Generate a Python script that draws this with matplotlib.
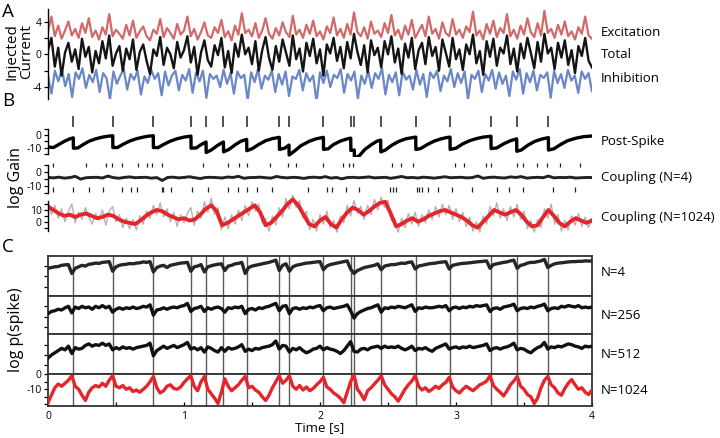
import numpy as np
import matplotlib
matplotlib.use('Agg')
import matplotlib.pyplot as plt

plt.rcParams['font.family'] = ['Open Sans', 'DejaVu Sans']
plt.rcParams['axes.unicode_minus'] = False

# ---------------- data ----------------
spike_times = [0.186, 0.476, 0.774, 1.051, 1.162, 1.29, 1.461, 1.701, 1.772,
               2.025, 2.226, 2.252, 2.446, 2.704, 2.956, 3.257, 3.446, 3.679]

# panel A: injected current (0.025 s grid)
excitation = [2.8, 4.6, 2.2, 3.5, 1.9, 2.9, 4.0, 2.3, 3.1, 2.0, 3.8, 2.6, 4.4, 2.1, 2.9, 1.8, 3.3, 2.4, 4.9, 2.2,
              3.0, 2.5, 1.9, 3.6, 2.3, 4.1, 2.0, 2.8, 3.4, 2.2, 1.7, 3.0, 2.5, 4.3, 2.1, 3.2, 2.6, 1.9, 3.7, 2.4,
              2.9, 4.6, 2.2, 3.1, 1.8, 2.7, 3.9, 2.3, 2.0, 3.3, 2.6, 4.2, 2.1, 2.8, 1.7, 3.5, 2.4, 5.0, 2.6, 3.0,
              2.2, 3.8, 2.0, 2.9, 4.4, 2.5, 1.9, 3.2, 2.3, 3.9, 2.7, 2.1, 4.7, 2.4, 3.0, 2.0, 3.6, 2.5, 4.1, 2.2,
              2.8, 1.8, 3.4, 2.6, 4.5, 2.3, 3.1, 2.0, 3.7, 2.4, 5.1, 2.7, 2.2, 3.3, 1.9, 4.0, 2.5, 2.9, 2.1, 3.8,
              2.6, 4.8, 2.3, 3.0, 1.8, 3.5, 2.4, 4.2, 2.0, 2.8, 3.6, 2.2, 4.6, 2.5, 3.1, 1.9, 3.9, 2.6, 2.2, 4.3,
              2.4, 3.0, 2.0, 3.4, 2.7, 5.2, 2.3, 2.9, 1.8, 3.7, 2.5, 4.1, 2.1, 3.2, 2.6, 4.9, 2.2, 3.0, 1.9, 3.5,
              2.4, 4.4, 2.7, 2.1, 3.8, 2.3, 5.3, 2.6, 3.1, 2.0, 3.6, 2.4, 4.0, 2.2, 2.8, 1.8, 3.3, 2.5, 4.6, 2.3,
              1.9]
total = [0.5, 2.0, -1.5, 0.8, -2.6, 0.2, 1.4, -0.9, 0.6, -1.8, 1.9, -0.3, 0.9, -2.2, 0.4, -1.1, 1.6, -0.5, 2.3, -1.4,
         0.1, 1.0, -2.0, 0.7, -0.6, 1.8, -1.9, 0.3, 1.2, -0.8, -2.4, 0.6, -0.2, 2.1, -1.3, 0.8, 0.0, -1.7, 1.5, -0.4,
         0.5, 2.2, -1.0, 0.9, -2.5, 0.2, 1.7, -0.7, -1.5, 1.1, -0.1, 2.0, -1.6, 0.4, -2.3, 1.3, -0.3, 2.4, 0.0, 0.8,
         -1.2, 1.6, -2.0, 0.5, 2.1, -0.4, -1.9, 1.0, -0.9, 1.8, 0.2, -1.4, 2.3, -0.6, 0.7, -2.1, 1.4, -0.2, 1.9, -1.1,
         0.6, -2.6, 1.2, 0.1, 2.0, -0.8, 0.9, -1.7, 1.5, -0.5, 2.5, 0.3, -1.3, 1.1, -2.2, 1.7, -0.1, 0.8, -1.6, 1.6,
         0.0, 2.2, -1.0, 0.7, -2.4, 1.3, -0.4, 2.0, -1.8, 0.5, 1.4, -1.2, 2.1, -0.2, 0.9, -2.0, 1.8, 0.2, -1.5, 2.0,
         -0.6, 0.6, -1.9, 1.2, 0.0, 2.4, -1.1, 0.4, -2.5, 1.6, -0.3, 1.9, -1.4, 0.8, 0.1, 2.3, -1.2, 0.7, -2.1, 1.3,
         -0.5, 2.0, 0.2, -1.7, 1.5, -0.9, 2.5, 0.1, 0.8, -1.8, 1.4, -0.4, 1.7, -1.3, 0.5, -2.3, 1.0, -0.2, 2.0, -0.8,
         -1.6]
inhibition = [-2.6, -4.8, -2.0, -3.3, -1.8, -3.9, -2.4, -5.2, -2.2, -3.0, -1.7, -4.1, -2.5, -3.4, -1.9, -4.6, -2.3, -2.9, -5.5, -2.1,
              -3.6, -2.6, -1.8, -4.3, -2.4, -3.1, -2.0, -4.9, -2.7, -3.5, -1.9, -3.0, -2.3, -5.0, -2.1, -3.8, -2.6, -2.0, -4.4, -2.5,
              -3.2, -1.8, -4.7, -2.2, -3.3, -2.0, -5.3, -2.4, -3.0, -2.6, -4.0, -1.9, -3.6, -2.3, -4.8, -2.1, -2.9, -2.5, -5.6, -2.2,
              -3.4, -1.8, -4.2, -2.6, -3.1, -2.0, -4.6, -2.4, -3.7, -2.1, -5.1, -2.7, -3.0, -1.9, -4.4, -2.3, -3.3, -2.6, -5.8, -2.2,
              -3.5, -2.0, -4.0, -2.5, -2.9, -1.8, -4.7, -2.4, -3.2, -2.1, -5.4, -2.6, -3.6, -2.0, -4.1, -2.3, -3.0, -1.7, -4.9, -2.5,
              -3.4, -2.2, -5.0, -2.1, -3.1, -2.6, -4.3, -1.9, -3.7, -2.4, -5.2, -2.2, -2.9, -2.0, -4.5, -2.6, -3.3, -1.8, -4.0, -2.3,
              -3.5, -2.1, -5.5, -2.5, -3.0, -2.0, -4.6, -2.4, -3.2, -1.9, -4.2, -2.2, -3.6, -2.6, -5.1, -2.1, -3.1, -1.8, -4.8, -2.3,
              -3.4, -2.0, -4.4, -2.5, -2.9, -2.2, -5.3, -2.0, -3.5, -2.4, -4.1, -1.9, -3.2, -2.6, -4.7, -2.1, -3.0, -2.3, -4.5]

# panel B: post-spike filter output (time, value)
post_t = [0.00, 0.04, 0.08, 0.12, 0.16, 0.186,
          0.187, 0.22, 0.26, 0.30, 0.35, 0.40, 0.44, 0.476,
          0.477, 0.51, 0.55, 0.60, 0.65, 0.70, 0.74, 0.774,
          0.775, 0.81, 0.85, 0.90, 0.95, 1.00, 1.051,
          1.052, 1.09, 1.12, 1.162,
          1.163, 1.20, 1.25, 1.29,
          1.291, 1.33, 1.38, 1.42, 1.461,
          1.462, 1.50, 1.55, 1.60, 1.65, 1.701,
          1.702, 1.74, 1.772,
          1.773, 1.81, 1.86, 1.92, 1.97, 2.025,
          2.026, 2.06, 2.10, 2.15, 2.20, 2.226,
          2.227, 2.252,
          2.253, 2.29, 2.33, 2.38, 2.42, 2.446,
          2.447, 2.48, 2.53, 2.58, 2.63, 2.68, 2.704,
          2.705, 2.74, 2.79, 2.84, 2.89, 2.93, 2.956,
          2.957, 3.00, 3.05, 3.10, 3.15, 3.20, 3.257,
          3.258, 3.30, 3.35, 3.40, 3.446,
          3.447, 3.48, 3.53, 3.58, 3.63, 3.679,
          3.680, 3.72, 3.77, 3.82, 3.88, 3.94, 4.00]
post_v = [-9.5, -10, -7.5, -5, -3, -2.2,
          -10.5, -10.3, -7.5, -5, -3, -1.6, -0.9, -0.5,
          -10, -10, -7.5, -4.8, -2.9, -1.6, -0.8, -0.5,
          -10, -10, -7.5, -4.8, -2.9, -1.6, -0.8,
          -10.5, -10.3, -8, -5.5,
          -14, -12, -8, -5.5,
          -13.5, -11.5, -7.5, -4.8, -3.5,
          -12.5, -11, -7.5, -4.5, -2.8, -1.8,
          -11.5, -10.5, -8,
          -16, -13, -8.5, -5, -3, -1.8,
          -11.5, -11, -7.5, -4.8, -3, -2.4,
          -12.3, -12,
          -18.5, -16.5, -11.5, -7.5, -4.8, -4,
          -13.5, -12, -8, -5, -3, -2, -1.6,
          -11.5, -10.8, -7.5, -4.8, -3, -2, -1.6,
          -11.5, -10.5, -7, -4.5, -2.8, -1.6, -0.9,
          -10.8, -10.3, -7, -4.5, -3,
          -13, -12, -8, -5, -3.2, -2,
          -12, -11, -7.5, -4.5, -2.5, -1.2, -0.7]

# coupling (N=4): trace on 0.04 s grid, input spikes above / below
coupling4 = [-4.0, -4.3, -3.8, -4.5, -4.1, -3.2, -5.2, -4.2, -4.0, -3.9, -4.4, -3.0, -4.1, -4.6, -4.0, -3.6, -4.2,
             -4.0, -3.9, -4.5, -4.1, -6.2, -4.0, -3.8, -4.3, -4.0, -3.5, -4.2, -4.8, -4.0, -3.9, -4.1, -4.4, -3.7,
             -4.0, -3.2, -4.6, -4.1, -4.0, -3.8, -4.2, -4.5, -3.3, -4.0, -4.3, -3.9, -4.1, -4.7, -4.0, -3.8, -4.2,
             -3.4, -4.5, -4.0, -5.0, -4.1, -3.9, -4.2, -4.0, -3.6, -4.3, -4.1, -3.9, -4.6, -4.0, -3.3, -4.2, -4.0,
             -4.4, -3.8, -4.1, -4.5, -4.0, -3.5, -4.2, -4.0, -3.9, -4.3, -4.1, -2.9, -4.6, -4.0, -3.8, -4.2, -4.4,
             -3.6, -4.0, -3.4, -4.5, -4.1, -3.9, -4.2, -3.0, -4.3, -4.0, -4.1, -3.8, -4.4, -4.2, -4.0, -4.1]
coupling4_up = [0.04, 0.277, 0.426, 0.468, 0.546, 0.659, 0.725, 0.762, 0.836, 1.142, 1.321, 1.404, 1.461,
                1.632, 1.767, 1.821, 2.02, 2.171, 2.215, 2.245, 2.527, 2.596, 2.686, 2.993, 3.059, 3.218,
                3.255, 3.446, 3.495, 3.598, 3.667, 3.765, 3.912]
coupling4_down = [0.04, 0.186, 0.304, 0.407, 0.546, 0.61, 0.652, 0.836, 0.848, 0.904, 1.057, 1.179, 1.321,
                  1.395, 1.461, 1.539, 1.649, 1.914, 2.049, 2.086, 2.191, 2.289, 2.515, 2.534, 2.559, 2.711,
                  2.73, 2.748, 2.796, 2.87, 2.968, 3.115, 3.304, 3.392, 3.495, 3.711, 3.875]

# coupling (N=1024): smoothed (red, 0.04 s grid) and raw (grey, 0.025 s grid)
coupling1024 = [13, 10, 7, 5, 6, 4, 6, 7, 5, 3, 4, 6, 5, 2, 0, -1, -2, 1, 5, 8,
                10, 9, 6, 4, 2, 3, 1, 2, 6, 11, 14, 9, -3, -1, 2, 5, 8, 11, 14, 8,
                -3, -1, 4, 9, 15, 19, 14, 6, -2, -4, 1, 4, -2, -5, 2, 8, 12, 10, 6, 9,
                13, 16, 17, 7, -4, -2, 1, 3, 0, 2, 5, 7, 9, 10, 8, 6, 4, 1, -3, -5,
                0, 5, 10, 8, 6, 8, 10, 6, 0, -4, -3, 4, 10, 5, -1, -4, 0, 3, 1, -1, 1]
coupling1024_raw = [16, 6, 14, 3, 11, 0, 9, 15, -1, 8, 2, 12, 4, -2, 7, 1, 10, -3, 9, 13,
                    0, 6, -5, 3, -6, 2, -7, 5, -2, 9, 3, 14, 6, 16, 4, 11, 0, 8, -4, 6,
                    -1, 7, 12, -3, 9, 3, 17, 8, 20, 6, 12, -7, 4, -6, 6, -2, 10, 1, 14, 5,
                    17, 9, 15, -1, 3, -8, 5, -3, 12, 4, 20, 11, 23, 12, 18, 3, 9, -7, 2, -8,
                    6, -2, 9, -5, 1, -9, 5, -1, 14, 5, 18, 7, 13, 2, 14, 6, 19, 10, 21, 12,
                    18, 1, 2, -9, 3, -5, 7, -2, 8, -4, 6, -1, 10, 2, 13, 4, 15, 6, 14, 2,
                    11, 0, 8, -4, 4, -8, 0, -9, 5, -2, 13, 5, 16, 3, 11, 1, 13, 4, 15, 2,
                    9, -6, 1, -9, 2, -5, 11, 3, 15, -2, 6, -8, 1, -7, 5, -3, 7, -4, 4, -5, 3]

# panel C: log p(spike) for different population sizes (0.025 s grid)
p_n4 = [-8.5, -8.0, -7.5, -7.3, -6.5, -6.2, -6.0, -12.0, -8.5, -7.5,
        -6.5, -7.0, -5.8, -5.5, -5.0, -5.2, -4.5, -4.3, -4.0, -10.5,
        -7.5, -6.5, -6.0, -5.8, -5.3, -5.5, -5.0, -4.8, -4.2, -4.5,
        -4.0, -11.0, -8.0, -7.0, -6.5, -8.0, -6.5, -6.0, -5.5, -5.0,
        -4.8, -4.5, -10.5, -7.5, -7.0, -6.0, -11.0, -7.5, -6.8, -6.2,
        -5.8, -5.5, -10.0, -7.0, -6.5, -5.5, -5.2, -4.5, -12.0, -8.0,
        -7.0, -6.5, -6.0, -5.5, -5.0, -4.5, -3.8, -3.0, -10.0, -6.5,
        -5.5, -10.5, -7.5, -6.5, -6.0, -5.5, -5.0, -4.8, -4.5, -4.2,
        -4.0, -9.5, -7.0, -6.0, -5.5, -5.0, -4.5, -4.0, -3.5, -9.0,
        -12.0, -10.0, -9.0, -8.0, -7.5, -7.0, -6.5, -5.5, -9.5, -7.0,
        -6.5, -6.0, -6.0, -5.5, -5.0, -5.2, -4.5, -4.2, -9.0, -7.0,
        -6.5, -6.0, -5.5, -5.2, -5.0, -4.5, -4.3, -4.0, -9.0, -6.5,
        -6.0, -5.5, -5.2, -5.0, -4.8, -4.5, -4.2, -4.0, -3.8, -3.5,
        -8.5, -6.0, -5.5, -5.0, -4.5, -4.2, -3.5, -3.0, -8.5, -6.5,
        -6.0, -5.0, -4.5, -4.5, -4.0, -3.5, -2.5, -8.0, -6.5, -5.5,
        -5.0, -4.8, -4.5, -4.2, -4.0, -4.0, -3.8, -3.8, -3.5, -3.6, -3.6]
p_n256 = [-12.0, -10.5, -10.0, -9.0, -9.5, -8.0, -7.0, -11.5, -7.5, -8.5,
          -7.0, -8.0, -7.5, -9.0, -7.0, -8.0, -6.5, -8.0, -7.0, -11.0,
          -9.0, -8.0, -9.0, -8.0, -8.5, -7.5, -8.5, -8.0, -7.0, -7.5,
          -6.0, -13.0, -9.5, -9.0, -8.0, -9.0, -8.0, -7.5, -8.0, -7.0,
          -6.5, -5.0, -10.5, -8.5, -8.0, -7.0, -10.5, -8.0, -9.0, -8.0,
          -7.5, -8.5, -11.0, -8.0, -8.5, -7.5, -8.0, -7.0, -12.0, -9.0,
          -8.5, -9.5, -8.0, -8.5, -7.5, -7.0, -6.0, -5.0, -10.0, -7.0,
          -6.5, -12.0, -8.5, -8.0, -9.0, -8.0, -8.5, -7.5, -8.0, -7.0,
          -6.5, -10.0, -8.0, -7.5, -8.5, -8.0, -7.5, -7.0, -6.0, -10.0,
          -15.0, -12.0, -10.5, -9.5, -8.5, -8.0, -7.0, -6.0, -11.0, -8.0,
          -8.5, -7.5, -8.0, -7.0, -7.5, -8.0, -7.0, -6.0, -10.5, -8.0,
          -8.5, -7.5, -8.0, -8.0, -7.5, -7.0, -7.5, -6.5, -10.0, -8.0,
          -7.5, -8.5, -7.5, -8.0, -7.0, -7.5, -6.5, -7.0, -6.5, -6.0,
          -10.5, -8.5, -8.0, -9.0, -7.5, -7.0, -6.5, -5.5, -10.0, -8.5,
          -8.0, -8.5, -7.5, -8.0, -7.0, -6.5, -5.5, -10.0, -8.5, -8.0,
          -8.5, -7.0, -7.5, -6.5, -7.0, -7.5, -6.5, -8.0, -7.5, -8.0, -7.5]
p_n512 = [-16.0, -14.0, -12.5, -11.0, -9.5, -10.5, -8.0, -13.0, -9.0, -10.0,
          -9.5, -7.5, -6.5, -8.0, -7.0, -7.5, -6.0, -7.5, -6.5, -10.5,
          -9.0, -10.0, -8.5, -9.5, -9.0, -10.0, -9.0, -8.5, -8.0, -7.5,
          -6.0, -14.5, -11.0, -9.5, -8.0, -9.5, -8.5, -7.5, -9.0, -8.0,
          -7.0, -5.5, -10.0, -9.0, -10.5, -9.0, -12.0, -8.5, -9.5, -11.0,
          -12.0, -9.0, -11.5, -9.0, -10.0, -9.5, -8.5, -7.0, -11.5, -10.0,
          -11.0, -9.5, -10.0, -9.0, -8.5, -8.0, -7.0, -4.5, -10.0, -7.5,
          -8.0, -12.0, -9.5, -10.5, -9.0, -11.0, -12.5, -11.5, -10.0, -9.5,
          -8.0, -10.5, -9.0, -10.0, -10.5, -11.5, -13.0, -11.0, -8.0, -5.0,
          -11.5, -12.0, -10.0, -9.5, -10.5, -9.0, -8.5, -8.0, -9.5, -8.0,
          -9.0, -8.5, -9.0, -8.0, -9.5, -10.5, -9.5, -8.0, -11.0, -9.5,
          -10.0, -9.0, -10.5, -11.5, -9.5, -8.5, -7.5, -6.5, -10.0, -9.0,
          -8.5, -9.5, -8.5, -9.0, -8.0, -9.0, -8.5, -8.0, -7.5, -6.5,
          -11.0, -9.5, -9.0, -10.0, -9.0, -8.5, -7.5, -6.0, -10.5, -9.5,
          -10.0, -11.5, -12.5, -10.5, -9.0, -8.0, -5.5, -10.0, -8.5, -9.0,
          -8.0, -8.5, -7.5, -6.5, -7.0, -8.0, -8.5, -9.5, -8.0, -8.5, -8.0]
p_n1024 = [-19.0, -14.0, -9.0, -6.5, -8.0, -6.0, -4.0, -1.0, -8.0, -10.0,
           -14.0, -17.5, -12.0, -9.0, -7.5, -8.5, -6.0, -8.0, -4.0, -1.0,
           -8.0, -9.0, -7.5, -10.0, -9.0, -11.5, -10.5, -12.0, -10.0, -8.0,
           -5.0, -1.5, -9.0, -12.5, -11.0, -8.0, -7.0, -9.5, -10.0, -8.5,
           -5.5, -3.0, -1.0, -8.0, -11.0, -5.0, -1.5, -10.0, -13.0, -16.0,
           -19.5, -12.0, -3.0, -8.0, -11.0, -9.0, -7.0, -4.0, -1.5, -9.0,
           -8.0, -10.5, -12.0, -15.0, -17.5, -14.0, -9.0, -5.0, -1.0, -6.0,
           -4.0, -1.0, -8.0, -10.0, -7.5, -10.5, -8.5, -11.0, -9.5, -7.0,
           -5.0, -2.0, -8.5, -10.0, -12.5, -14.0, -16.0, -19.0, -12.0, -5.0,
           -0.5, -10.0, -13.0, -17.0, -11.0, -9.0, -6.5, -4.0, -1.0, -7.0,
           -10.0, -13.0, -15.0, -18.0, -14.0, -10.0, -7.0, -4.5, -1.0, -8.0,
           -10.5, -9.0, -11.5, -10.0, -8.0, -9.5, -7.0, -5.5, -2.0, -8.5,
           -11.0, -12.5, -10.0, -8.0, -9.5, -11.0, -9.0, -7.0, -6.0, -4.5,
           -1.0, -7.5, -10.0, -12.0, -14.5, -11.0, -7.0, -4.5, -1.5, -8.0,
           -10.0, -13.5, -15.0, -19.5, -16.0, -9.0, -4.0, -1.5, -7.0, -9.0,
           -12.5, -14.0, -9.5, -6.0, -3.5, -7.0, -10.0, -9.0, -12.0, -13.5, -10.5]

c_labels = ['N=4', 'N=256', 'N=512', 'N=1024']

# ---------------- figure ----------------
W, H = 720, 438
fig = plt.figure(figsize=(W / 100, H / 100), dpi=100)


def px_axes(top, bottom, left=48, right=592):
    return fig.add_axes([left / W, 1 - bottom / H, (right - left) / W, (bottom - top) / H])


def left_spine_only(ax, ticks, labels, bounds):
    for s in ['top', 'right', 'bottom']:
        ax.spines[s].set_visible(False)
    ax.spines['left'].set_bounds(*bounds)
    ax.spines['left'].set_linewidth(1.0)
    ax.set_xticks([])
    ax.set_yticks(ticks)
    ax.set_yticklabels(labels)
    ax.tick_params(axis='y', length=3, width=0.9, labelsize=7.5, pad=1.5)
    ax.patch.set_visible(False)
    ax.set_xlim(0, 4)


def ftext(xpx, ypx, s, **kw):
    fig.text(xpx / W, 1 - ypx / H, s, **kw)


def grid(vals):
    return np.linspace(0, 4, len(vals))


# ---- panel A
ax_a = px_axes(9.2, 99.4)
ax_a.plot(grid(excitation), excitation, color='#d36a6a', lw=1.6)
ax_a.plot(grid(inhibition), inhibition, color='#6a87c8', lw=1.6)
ax_a.plot(grid(total), total, color='#141414', lw=1.7)
ax_a.set_ylim(-5.5, 5.5)
left_spine_only(ax_a, [-4, -2, 0, 2, 4], ['-4', '', '0', '', '4'], (-5.5, 5.5))

# ---- panel B
ax_r = px_axes(116, 127)
ax_r.vlines(spike_times, 0, 1, color='#222222', lw=1.1)
ax_r.set_xlim(0, 4)
ax_r.set_ylim(0, 1)
ax_r.axis('off')

ax_p = px_axes(128.3, 156.5)
ax_p.plot(post_t, post_v, color='black', lw=2.4)
ax_p.set_ylim(-17.2, 5.5)
left_spine_only(ax_p, [5, 0, -5, -10, -15], ['', '0', '', '-10', ''], (-15, 5))

ax_c = px_axes(160, 196)
ax_c.plot(grid(coupling4), coupling4, color='#222222', lw=2.1)
ax_c.vlines(coupling4_up, 3.8, 6.8, color='#222222', lw=0.9)
ax_c.vlines(coupling4_down, -14.3, -10.9, color='#222222', lw=0.9)
ax_c.set_ylim(-17.5, 8.7)
left_spine_only(ax_c, [5, 0, -5, -10, -15], ['', '0', '', '-10', ''], (-15, 5))

ax_g = px_axes(195, 236)
ax_g.plot(grid(coupling1024_raw), coupling1024_raw, color='#b3b3b3', lw=1.0)
ax_g.plot(grid(coupling1024), coupling1024, color='#e4262b', lw=2.8)
ax_g.set_ylim(-12.2, 22.8)
left_spine_only(ax_g, [15, 10, 5, 0, -5], ['', '10', '', '0', ''], (-8, 18))

# ---- panel C
boxes = [(255.7, 296.0, (-27.2, 0)), (296.0, 334.3, (-26, 0)),
         (334.3, 374.3, (-27, 0)), (374.3, 405.7, (-21, 0))]
traces = [p_n4, p_n256, p_n512, p_n1024]
colors = ['#262626', '#111111', '#111111', '#e4262b']
for i, ((top, bot, ylim), vals, col) in enumerate(zip(boxes, traces, colors)):
    ax = px_axes(top, bot)
    for t in spike_times:
        ax.axvline(t, color='#5a5a5a', lw=1.0, zorder=1)
    ax.plot(grid(vals), vals, color=col, lw=2.4, zorder=3)
    ax.set_xlim(0, 4)
    ax.set_ylim(*ylim)
    for s in ax.spines.values():
        s.set_linewidth(1.3)
        s.set_color('#333333')
    if i < 3:
        ax.set_yticks([-7, -14, -21])
        ax.set_yticklabels([])
        ax.set_xticks([])
    else:
        ax.set_yticks([0, -5, -10, -15, -20])
        ax.set_yticklabels(['0', '', '-10', '', ''])
        ax.set_xticks(np.arange(0, 4.01, 0.5))
        ax.set_xticklabels(['0', '', '1', '', '2', '', '3', '', '4'])
        ax.tick_params(axis='x', direction='in', length=3, width=0.9, labelsize=7.5, pad=4)
    ax.tick_params(axis='y', length=3, width=0.9, labelsize=7.5, pad=1.5)
    ax.tick_params(right=False, top=False)
    ftext(601, (top + bot) / 2 - 3 if i == 0 else (top + bot) / 2, c_labels[i],
          fontsize=9.5, va='center', ha='left')

# ---- labels
lab = dict(fontsize=9.5, va='center', ha='left')
ftext(601, 32, 'Excitation', **lab)
ftext(601, 55, 'Total', **lab)
ftext(601, 79, 'Inhibition', **lab)
ftext(601, 142, 'Post-Spike', **lab)
ftext(601, 177, 'Coupling (N=4)', **lab)
ftext(601, 218, 'Coupling (N=1024)', **lab)

ftext(19, 52, 'Injected\nCurrent', rotation=90, fontsize=11, ha='center', va='center', linespacing=0.95)
ftext(16, 178, 'log Gain', rotation=90, fontsize=11.5, ha='center', va='center')
ftext(16, 330, 'log p(spike)', rotation=90, fontsize=11.5, ha='center', va='center')
ftext(320, 428, 'Time [s]', fontsize=9.5, ha='center', va='center')

ftext(8, 12, 'A', fontsize=13.5, ha='center', va='center')
ftext(8, 101, 'B', fontsize=13.5, ha='center', va='center')
ftext(8, 247, 'C', fontsize=13.5, ha='center', va='center')

fig.savefig('out.png', dpi=100)
